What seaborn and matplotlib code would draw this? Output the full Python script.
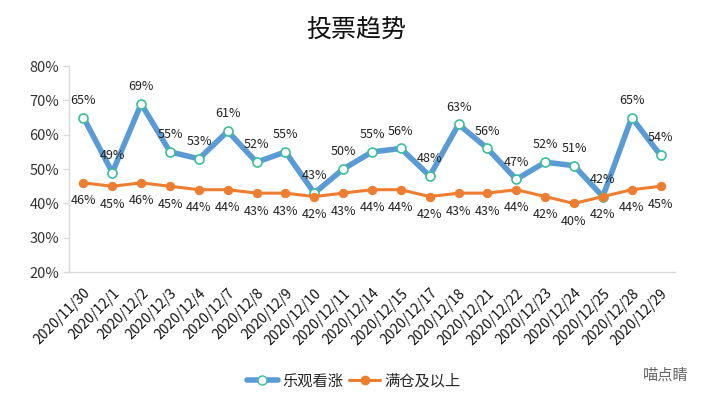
import pandas as pd
import matplotlib.pyplot as plt
import seaborn as sns
from matplotlib.lines import Line2D

# %%
dates = ['2020/11/30', '2020/12/1', '2020/12/2', '2020/12/3', '2020/12/4',
         '2020/12/7', '2020/12/8', '2020/12/9', '2020/12/10', '2020/12/11',
         '2020/12/14', '2020/12/15', '2020/12/17', '2020/12/18', '2020/12/21',
         '2020/12/22', '2020/12/23', '2020/12/24', '2020/12/25', '2020/12/28',
         '2020/12/29']
bullish = [65, 49, 69, 55, 53, 61, 52, 55, 43, 50, 55, 56, 48, 63, 56, 47, 52, 51, 42, 65, 54]
full_pos = [46, 45, 46, 45, 44, 44, 43, 43, 42, 43, 44, 44, 42, 43, 43, 44, 42, 40, 42, 44, 45]
name_bull = '乐观看涨'
name_full = '满仓及以上'
title = '投票趋势'
yticks = [20, 30, 40, 50, 60, 70, 80]

df = pd.DataFrame({'date': dates, 'idx': range(len(dates)),
                   'bull': bullish, 'full': full_pos})

# %%
sns.set_theme(style='white')
plt.rcParams['font.family'] = ['Noto Sans CJK SC', 'DejaVu Sans']

blue = '#5B9BD5'
orange = '#ED7D31'
mk_edge = '#3DBE9A'
grey = '#D9D9D9'

fig = plt.figure(figsize=(7.12, 4.05), dpi=100)
ax = fig.add_axes([0.097, 0.328, 0.851, 0.509])

sns.lineplot(data=df, x='idx', y='bull', ax=ax, color=blue, linewidth=4,
             marker='o', markersize=6.5, markerfacecolor='white',
             markeredgecolor=mk_edge, markeredgewidth=1.2, zorder=3)
sns.lineplot(data=df, x='idx', y='full', ax=ax, color=orange, linewidth=2.2,
             marker='o', markersize=6, markerfacecolor=orange,
             markeredgecolor=orange, zorder=3)

for i, v in enumerate(bullish):
    ax.annotate(f'{v}%', (i, v), xytext=(0, 12.5), textcoords='offset points',
                ha='center', va='center', fontsize=9, color='#222222')
for i, v in enumerate(full_pos):
    ax.annotate(f'{v}%', (i, v), xytext=(0, -13), textcoords='offset points',
                ha='center', va='center', fontsize=9, color='#222222')

ax.set_xlim(-0.5, len(dates) - 0.5)
ax.set_ylim(20, 80)
ax.set_yticks(yticks)
ax.set_yticklabels([f'{t}%' for t in yticks], fontsize=10.5, color='#333333')
ax.set_xticks(range(len(dates)))
ax.set_xticklabels(dates, rotation=45, ha='right', rotation_mode='anchor',
                   fontsize=10, color='#111111')
ax.set_xlabel('')
ax.set_ylabel('')

for s in ['top', 'right']:
    ax.spines[s].set_visible(False)
for s in ['left', 'bottom']:
    ax.spines[s].set_color(grey)
    ax.spines[s].set_linewidth(1)
ax.tick_params(axis='y', left=True, length=4, color=grey, width=1, pad=3)
ax.tick_params(axis='x', bottom=False, pad=4)

fig.text(0.5, 0.925, title, ha='center', va='center', fontsize=18,
         color='#111111')

handles = [
    Line2D([], [], color=blue, linewidth=4, marker='o', markersize=6.5,
           markerfacecolor='white', markeredgecolor=mk_edge),
    Line2D([], [], color=orange, linewidth=2.2, marker='o', markersize=6,
           markerfacecolor=orange, markeredgecolor=orange),
]
fig.legend(handles, [name_bull, name_full], loc='center',
           bbox_to_anchor=(0.497, 0.059), ncol=2, frameon=False, fontsize=11,
           handlelength=2.0, columnspacing=0.4, handletextpad=0.3)

fig.text(0.935, 0.074, '喵点睛', ha='center', va='center', fontsize=11,
         color='#666666')

fig.savefig('out.png', dpi=100)
